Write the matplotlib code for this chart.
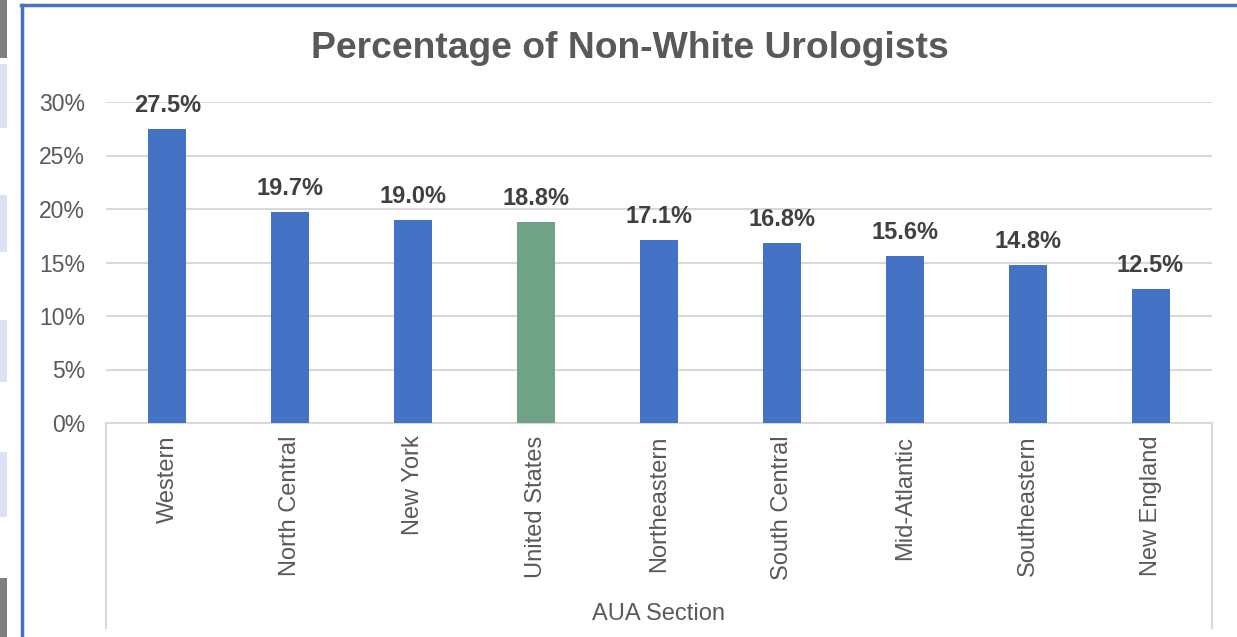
import numpy as np
import matplotlib.pyplot as plt
from matplotlib.patches import Rectangle
from matplotlib.lines import Line2D

plt.rcParams['font.family'] = ['Liberation Sans', 'DejaVu Sans']

sections = ['Western', 'North Central', 'New York', 'United States', 'Northeastern',
            'South Central', 'Mid-Atlantic', 'Southeastern', 'New England']
pct = [27.5, 19.7, 19.0, 18.8, 17.1, 16.8, 15.6, 14.8, 12.5]
yticks = [0, 5, 10, 15, 20, 25, 30]

blue = '#4472C4'
green = '#6FA287'
colors = [green if s == 'United States' else blue for s in sections]

W, H = 1237, 637
fig = plt.figure(figsize=(W / 100, H / 100), dpi=100)
ax = fig.add_axes([106 / W, 1 - 423 / H, (1212 - 106) / W, (423 - 102) / H])

x = np.arange(len(sections))
ax.bar(x, pct, width=0.31, color=colors, zorder=3)
ax.set_xlim(-0.5, len(sections) - 0.5)
ax.set_ylim(0, 30)
ax.set_yticks(yticks)
ax.set_yticklabels([f'{t}%' for t in yticks], fontsize=16.5, color='#595959')
ax.tick_params(axis='y', length=0, pad=15)
ax.set_xticks(x)
ax.set_xticklabels(sections, rotation=90, fontsize=17, color='#595959')
ax.tick_params(axis='x', length=0, pad=9)
ax.grid(axis='y', color='#D9D9D9', linewidth=1.5, zorder=0)
for side in ['top', 'right', 'left']:
    ax.spines[side].set_visible(False)
ax.spines['bottom'].set_color('#D9D9D9')
ax.spines['bottom'].set_linewidth(1.5)

for xi, v in zip(x, pct):
    ax.annotate(f'{v:.1f}%', (xi, v), xytext=(0, 8.5), textcoords='offset points',
                ha='center', va='bottom', fontsize=17, fontweight='bold', color='#404040')

fig.text(630 / W, 1 - 48 / H, 'Percentage of Non-White Urologists',
         ha='center', va='center', fontsize=26.8, fontweight='bold', color='#595959')
fig.text(659 / W, 1 - 614 / H, 'AUA Section',
         ha='center', va='center', fontsize=17, color='#595959')

# category box edges below the axis
for px in (106, 1212):
    fig.add_artist(Line2D([px / W, px / W], [1 - 423 / H, 1 - 628 / H],
                          color='#D9D9D9', linewidth=1.5))

# frame border (top and left)
fig.add_artist(Line2D([21 / W, 1], [1 - 5 / H, 1 - 5 / H], color='#4472C4', linewidth=2.5))
fig.add_artist(Line2D([22 / W, 22 / W], [1 - 5 / H, 0], color='#4472C4', linewidth=2.5))

# side strip from the screenshot
for y0, y1, c in [(0, 58, '#7F7F7F'), (64, 128, '#DAE3F3'), (195, 252, '#DAE3F3'),
                  (320, 382, '#DAE3F3'), (452, 517, '#DAE3F3'), (578, 637, '#7F7F7F')]:
    fig.add_artist(Rectangle((0, 1 - y1 / H), 7 / W, (y1 - y0) / H,
                             facecolor=c, edgecolor='none', transform=fig.transFigure))

fig.savefig('out.png', dpi=100)
